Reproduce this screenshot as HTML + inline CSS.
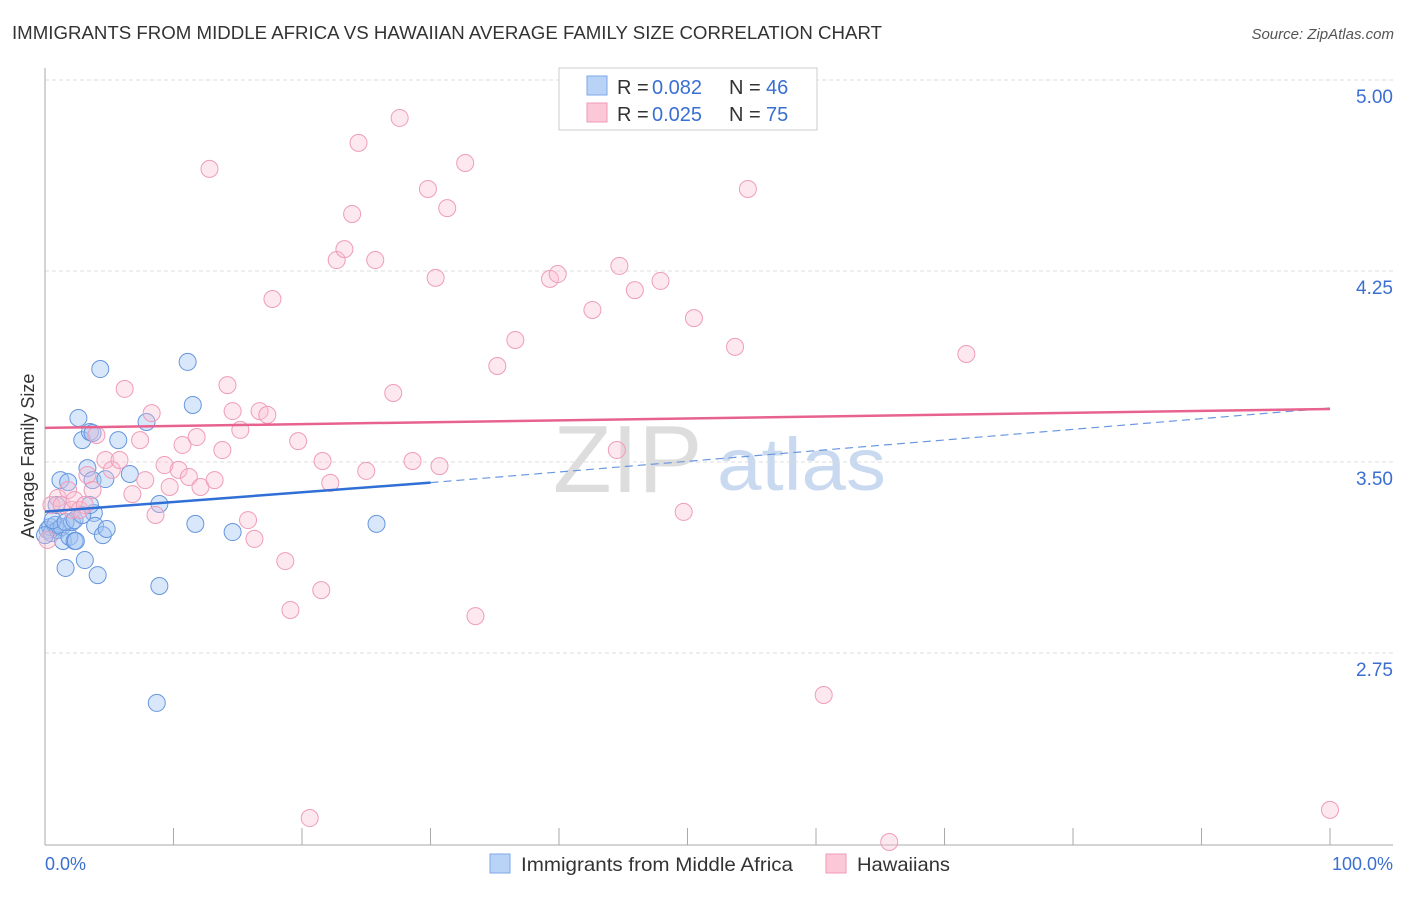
<!DOCTYPE html>
<html><head><meta charset="utf-8"><style>
body{margin:0;background:#fff;font-family:"Liberation Sans",sans-serif;}
svg text{font-family:"Liberation Sans",sans-serif;}
</style></head><body>
<svg id="chart" width="1406" height="892" viewBox="0 0 1406 892" xmlns="http://www.w3.org/2000/svg">
<text x="12" y="39" font-size="18" fill="#333" textLength="870" lengthAdjust="spacingAndGlyphs">IMMIGRANTS FROM MIDDLE AFRICA VS HAWAIIAN AVERAGE FAMILY SIZE CORRELATION CHART</text>
<text x="1394" y="39" font-size="15" font-style="italic" fill="#555" text-anchor="end">Source: ZipAtlas.com</text>
<text x="553" y="492" font-size="96" fill="#ddd" font-family="Liberation Serif">ZIP</text>
<text x="717" y="490" font-size="74" fill="#c9d9f0" textLength="169" lengthAdjust="spacingAndGlyphs">atlas</text>
<g id="grid"></g>
<line x1="45" y1="68" x2="45" y2="845" stroke="#aaa"/>
<line x1="45" y1="845" x2="1393" y2="845" stroke="#aaa"/>
<g id="ticks"></g>
<text transform="translate(34,456) rotate(-90)" font-size="18" fill="#333" text-anchor="middle">Average Family Size</text>
<text x="45" y="870" font-size="18" fill="#3a6fd1">0.0%</text>
<text x="1393" y="870" font-size="18" fill="#3a6fd1" text-anchor="end">100.0%</text>
<g id="pts"></g>
<g id="trends"></g>
<g>
<rect x="559" y="68" width="258" height="62" fill="#fff" stroke="#ccc"/>
<rect x="587" y="76" width="20" height="19" fill="#b9d3f7" stroke="#7da7e8"/>
<rect x="587" y="103" width="20" height="19" fill="#fbc8d8" stroke="#f09ab6"/>
<text x="617" y="94" font-size="20" fill="#333">R =</text>
<text x="652" y="94" font-size="20" fill="#3a6fd1">0.082</text>
<text x="729" y="94" font-size="20" fill="#333">N =</text>
<text x="766" y="94" font-size="20" fill="#3a6fd1">46</text>
<text x="617" y="121" font-size="20" fill="#333">R =</text>
<text x="652" y="121" font-size="20" fill="#3a6fd1">0.025</text>
<text x="729" y="121" font-size="20" fill="#333">N =</text>
<text x="766" y="121" font-size="20" fill="#3a6fd1">75</text>
</g>
<g>
<rect x="490" y="854" width="20" height="19" fill="#b9d3f7" stroke="#7da7e8"/>
<text x="521" y="871" font-size="19.5" fill="#333" textLength="272" lengthAdjust="spacingAndGlyphs">Immigrants from Middle Africa</text>
<rect x="826" y="854" width="20" height="19" fill="#fbc8d8" stroke="#f09ab6"/>
<text x="857" y="871" font-size="19.5" fill="#333" textLength="93" lengthAdjust="spacingAndGlyphs">Hawaiians</text>
</g>
</svg>
<script>
const yTicks=[5.00,4.25,3.50,2.75];
const yTickLabels=["5.00","4.25","3.50","2.75"];
const xTicks=[10,20,30,40,50,60,70,80,90,100];
const blueX=[0.2,0.4,0.5,0.8,1.0,1.2,1.3,1.4,1.6,1.8,1.9,2.1,2.3,2.4,2.6,2.9,3.1,3.3,3.5,3.7,3.7,3.8,3.9,4.1,4.3,4.5,4.7,4.8,5.7,6.6,7.9,8.7,8.9,8.9,11.1,11.5,11.7,14.6,25.8,0.6,0.9,1.6,2.3,2.9,3.5,0];
const blueY=[3.233,3.245,3.221,3.253,3.233,3.429,3.245,3.190,3.084,3.421,3.206,3.264,3.190,3.190,3.673,3.586,3.115,3.476,3.618,3.429,3.614,3.300,3.249,3.056,3.865,3.213,3.433,3.237,3.586,3.453,3.657,2.554,3.335,3.013,3.893,3.724,3.257,3.225,3.257,3.272,3.331,3.264,3.272,3.292,3.331,3.213];
const pinkX=[0.2,0.5,1.0,1.3,1.8,2.1,2.3,2.7,3.1,3.3,3.7,4.0,4.7,5.2,5.8,6.2,6.8,7.4,7.8,8.3,8.6,9.3,9.7,10.4,10.7,11.2,11.8,12.1,12.8,13.2,13.8,14.2,14.6,15.2,15.8,16.3,16.7,17.3,17.7,18.7,19.1,19.7,20.6,21.5,21.6,22.2,22.7,23.3,23.9,24.4,25.0,25.7,27.1,27.6,28.6,29.8,30.4,30.7,31.3,32.7,33.5,35.2,36.6,39.3,39.9,42.6,44.5,44.7,45.9,47.9,49.7,50.5,53.7,54.7,60.6,65.7,71.7,100];
const pinkY=[3.194,3.331,3.359,3.331,3.390,3.312,3.351,3.312,3.331,3.449,3.390,3.606,3.508,3.469,3.508,3.787,3.374,3.586,3.429,3.692,3.292,3.488,3.402,3.469,3.567,3.441,3.598,3.402,4.651,3.429,3.547,3.802,3.700,3.626,3.272,3.198,3.700,3.685,4.140,3.111,2.919,3.582,2.102,2.997,3.504,3.418,4.293,4.336,4.474,4.753,3.465,4.293,3.771,4.851,3.504,4.572,4.223,3.484,4.497,4.674,2.895,3.877,3.979,4.219,4.238,4.097,3.547,4.270,4.175,4.211,3.304,4.065,3.952,4.572,2.585,2.008,3.924,2.134];
const blueTrend=[[0,3.305],[30,3.419]];
const blueTrendExt=[[30,3.419],[100,3.712]];
const pinkTrend=[[0,3.634],[100,3.708]];
const X=v=>45+v*12.85;
const Y=v=>80+(5-v)*254.67;
const NS="http://www.w3.org/2000/svg";
function mk(tag,attrs,parent){const e=document.createElementNS(NS,tag);for(const k in attrs)e.setAttribute(k,attrs[k]);document.getElementById(parent).appendChild(e);return e;}
yTicks.forEach((t,i)=>{
 const l=mk('line',{x1:45,x2:1393,y1:Y(t),y2:Y(t),stroke:'#ddd','stroke-dasharray':'4,3'},'grid');
 
 
 const tx=mk('text',{x:1393,y:Y(t)+23,'font-size':19,fill:'#3a6fd1','text-anchor':'end'},'grid');
 tx.textContent=yTickLabels[i];
 
 
});
xTicks.forEach(t=>{
 const l=mk('line',{x1:X(t),x2:X(t),y1:828,y2:845,stroke:'#aaa'},'ticks');
 
 
});
blueX.forEach((x,i)=>{
 const c=mk('circle',{cx:X(x),cy:Y(blueY[i]),r:8.5,fill:'rgba(160,196,243,0.4)',stroke:'#6696de','stroke-width':1},'pts');
 
 
});
pinkX.forEach((x,i)=>{
 const c=mk('circle',{cx:X(x),cy:Y(pinkY[i]),r:8.5,fill:'rgba(248,188,208,0.35)',stroke:'#ef9db8','stroke-width':1},'pts');
 
 
});
const bt=mk('line',{x1:X(blueTrend[0][0]),y1:Y(blueTrend[0][1]),x2:X(blueTrend[1][0]),y2:Y(blueTrend[1][1]),stroke:'#2f6fd6','stroke-width':2.5},'trends');


const be=mk('line',{x1:X(blueTrendExt[0][0]),y1:Y(blueTrendExt[0][1]),x2:X(blueTrendExt[1][0]),y2:Y(blueTrendExt[1][1]),stroke:'#6a98e0','stroke-width':1.2,'stroke-dasharray':'8,5'},'trends');


const pt=mk('line',{x1:X(pinkTrend[0][0]),y1:Y(pinkTrend[0][1]),x2:X(pinkTrend[1][0]),y2:Y(pinkTrend[1][1]),stroke:'#e8628e','stroke-width':2.5},'trends');


</script>
</body></html>
